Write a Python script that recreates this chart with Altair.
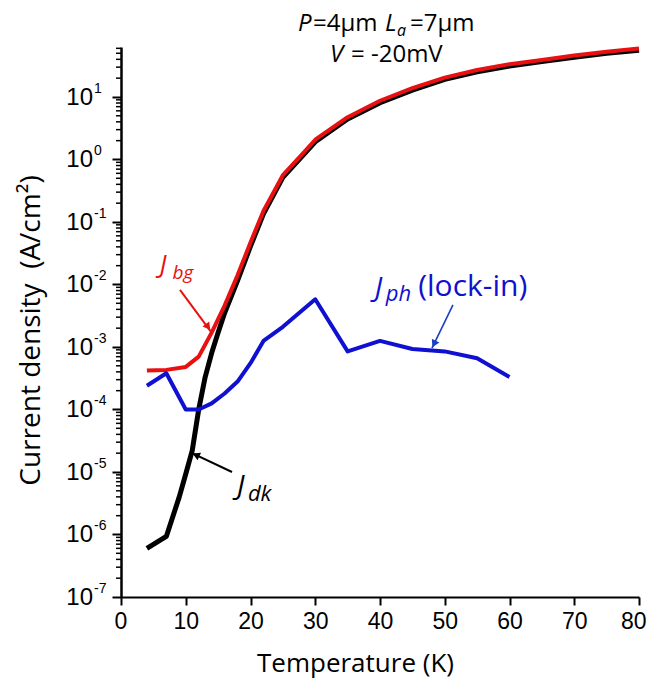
import altair as alt
import pandas as pd

# ---------------- data ----------------
# dark current density J_dk (A/cm^2) vs temperature (K)
T_dk = [4, 7, 9, 10, 11, 12, 13, 14, 15, 16, 18, 20, 22, 25, 28, 30, 35, 40, 45, 50, 55, 60, 65, 70, 75, 80]
J_dk = [6.0e-7, 9.3e-7, 4.0e-6, 9.3e-6, 2.2e-5, 1.0e-4, 3.3e-4, 8.0e-4, 1.7e-3, 3.5e-3, 1.15e-2, 4.1e-2,
        0.135, 0.52, 1.13, 1.92, 4.45, 8.1, 12.9, 19.2, 25.3, 31.3, 37.0, 43.3, 49.8, 55.8]

# background current density J_bg
T_bg = [4, 7, 10, 12, 14, 16, 18, 20, 22, 25, 28, 30, 35, 40, 45, 50, 55, 60, 65, 70, 75, 80]
J_bg = [4.2e-4, 4.3e-4, 4.8e-4, 7.0e-4, 1.7e-3, 4.6e-3, 1.4e-2, 4.7e-2, 0.15, 0.56, 1.22, 2.07, 4.75,
        8.7, 13.8, 20.4, 27.0, 33.5, 39.0, 46.0, 53.0, 59.5]

# photocurrent density J_ph (lock-in)
T_ph = [4, 7, 10, 12, 14, 16, 18, 20, 22, 25, 30, 35, 40, 45, 50, 55, 60]
J_ph = [2.4e-4, 3.8e-4, 1.0e-4, 1.0e-4, 1.25e-4, 1.8e-4, 2.8e-4, 5.5e-4, 1.25e-3, 2.1e-3, 5.8e-3,
        8.5e-4, 1.25e-3, 9.3e-4, 8.5e-4, 6.6e-4, 3.3e-4]

# axis ticks / labels
x_ticks = [0, 10, 20, 30, 40, 50, 60, 70, 80]
y_decades = [1e-7, 1e-6, 1e-5, 1e-4, 1e-3, 1e-2, 1e-1, 1e0, 1e1]
y_exponents = ["-7", "-6", "-5", "-4", "-3", "-2", "-1", "0", "1"]
y_minor = [m * d for d in y_decades for m in range(2, 10) if m * d <= 63]

Y_MIN, Y_MAX = 1e-7, 63

# ---------------- chart ----------------
xs = alt.Scale(domain=[0, 80], nice=False, zero=False)
ys = alt.Scale(type="log", domain=[Y_MIN, Y_MAX], nice=False)

df_dk = pd.DataFrame({"T": T_dk, "J": J_dk})
df_bg = pd.DataFrame({"T": T_bg, "J": J_bg})
df_ph = pd.DataFrame({"T": T_ph, "J": J_ph})

RED = "#e81010"
BLUE = "#1010d0"

x_axis = alt.Axis(values=x_ticks, labelFont="Liberation Sans", labelFontSize=23, labelColor="black",
                  tickSize=8, tickWidth=2, tickColor="black", domainWidth=2, domainColor="black",
                  labelPadding=5, grid=False, title="Temperature (K)", titleFont="Open Sans",
                  titleFontSize=26, titleFontWeight="normal", titleColor="black", titlePadding=17,
                  titleX=234, labelFlush=True, labelFlushOffset=7)
y_axis = alt.Axis(values=y_decades, labels=False, tickSize=9, tickWidth=2, tickColor="black",
                  domainWidth=2.5, domainColor="black", grid=False,
                  title="Current density\u00a0\u00a0(A/cm²)", titleFont="Open Sans", titleFontSize=28,
                  titleFontWeight="normal", titleColor="black", titleX=-90, titleY=283,
                  titleBaseline="middle")

dk = alt.Chart(df_dk).mark_line(color="black", strokeWidth=5, strokeJoin="round").encode(
    x=alt.X("T:Q", scale=xs, axis=x_axis), y=alt.Y("J:Q", scale=ys, axis=y_axis))
bg = alt.Chart(df_bg).mark_line(color=RED, strokeWidth=4, strokeJoin="round").encode(
    x=alt.X("T:Q", scale=xs), y=alt.Y("J:Q", scale=ys))
ph = alt.Chart(df_ph).mark_line(color=BLUE, strokeWidth=4, strokeJoin="round").encode(
    x=alt.X("T:Q", scale=xs), y=alt.Y("J:Q", scale=ys))

# minor ticks on the log axis
minor = alt.Chart(pd.DataFrame({"v": y_minor})).mark_rule(color="black", strokeWidth=1.5).encode(
    y=alt.Y("v:Q", scale=ys), x=alt.value(-5), x2=alt.value(0))

# y tick labels "10" with superscript exponent
lab_df = pd.DataFrame({"v": y_decades, "e": y_exponents, "b": ["10"] * len(y_decades)})
lab10 = alt.Chart(lab_df).mark_text(font="Liberation Sans", fontSize=24, align="right",
                                    baseline="middle", color="black", dy=1).encode(
    y=alt.Y("v:Q", scale=ys), x=alt.value(-28), text="b:N")
labexp = alt.Chart(lab_df).mark_text(font="Liberation Sans", fontSize=14, align="left",
                                     baseline="middle", color="black", dy=-8).encode(
    y=alt.Y("v:Q", scale=ys), x=alt.value(-27), text="e:N")

# curve annotations (data coordinates)
ann = pd.DataFrame({
    "text": ["J", "bg", "J", "dk", "J", "ph", "(lock-in)"],
    "T": [6.0, 7.95, 17.9, 19.6, 39.2, 40.9, 45.9],
    "J": [1.53e-2, 1.22e-2, 4.28e-6, 3.44e-6, 6.3e-3, 5.44e-3, 6.55e-3],
    "size": [25, 19, 28, 22, 28, 22, 30],
    "color": [RED, RED, "black", "black", BLUE, BLUE, BLUE],
    "italic": [1, 1, 1, 1, 1, 1, 0],
})
ann_it = alt.Chart(ann).transform_filter("datum.italic == 1").mark_text(
    font="Open Sans", fontStyle="italic", align="left", baseline="alphabetic").encode(
    x=alt.X("T:Q", scale=xs), y=alt.Y("J:Q", scale=ys), text="text:N",
    size=alt.Size("size:Q", scale=None), color=alt.Color("color:N", scale=None))
ann_up = alt.Chart(ann).transform_filter("datum.italic == 0").mark_text(
    font="Open Sans", align="left", baseline="alphabetic").encode(
    x=alt.X("T:Q", scale=xs), y=alt.Y("J:Q", scale=ys), text="text:N",
    size=alt.Size("size:Q", scale=None), color=alt.Color("color:N", scale=None))

arrows = pd.DataFrame({
    "T1": [9.11, 17.14, 51.27], "J1": [8.17e-3, 1.0e-5, 4.7e-3],
    "T2": [14.05, 10.97, 48.03], "J2": [1.67e-3, 2.01e-5, 9.6e-4],
    "Th": [13.44, 11.58, 48.34], "Jh": [2.09e-3, 1.87e-5, 1.12e-3],
    "ang": [143, 295, 206],
    "color": [RED, "black", "#1a3fc0"],
    "w": [2, 2, 1.6],
})
shaft = alt.Chart(arrows).mark_rule().encode(
    x=alt.X("T1:Q", scale=xs), x2="T2:Q", y=alt.Y("J1:Q", scale=ys), y2="J2:Q",
    color=alt.Color("color:N", scale=None), strokeWidth=alt.StrokeWidth("w:Q", scale=None))
head = alt.Chart(arrows).mark_point(shape="triangle-up", filled=True, opacity=1, size=70).encode(
    x=alt.X("Th:Q", scale=xs), y=alt.Y("Jh:Q", scale=ys),
    angle=alt.Angle("ang:Q", scale=None), color=alt.Color("color:N", scale=None))

# title lines (pixel positions relative to plot origin)
ttl = pd.DataFrame({
    "text": ["P", "=4μm", "L", "a", "=7μm", "V", "= -20mV"],
    "px": [177, 192, 264, 276, 289, 209, 230],
    "py": [-16, -16, -16, -11, -16, 15, 15],
    "size": [24, 24, 24, 16, 24, 24, 24],
    "italic": [1, 0, 1, 1, 0, 1, 0],
})
ttl_it = alt.Chart(ttl).transform_filter("datum.italic == 1").mark_text(
    font="Open Sans", fontStyle="italic", align="left", baseline="alphabetic", color="black").encode(
    x=alt.X("px:Q", scale=None), y=alt.Y("py:Q", scale=None), text="text:N",
    size=alt.Size("size:Q", scale=None))
ttl_up = alt.Chart(ttl).transform_filter("datum.italic == 0").mark_text(
    font="Open Sans", align="left", baseline="alphabetic", color="black").encode(
    x=alt.X("px:Q", scale=None), y=alt.Y("py:Q", scale=None), text="text:N",
    size=alt.Size("size:Q", scale=None))

chart = alt.layer(
    dk, bg, ph, minor, lab10, labexp, shaft, head, ann_it, ann_up, ttl_it, ttl_up
).properties(
    width=518, height=550,
    padding={"left": 113, "top": 39, "right": 10, "bottom": 85},
    autosize="none", background="white",
).configure_view(stroke=None)

chart.save("out.html", embed_options={"renderer": "svg", "actions": False})
